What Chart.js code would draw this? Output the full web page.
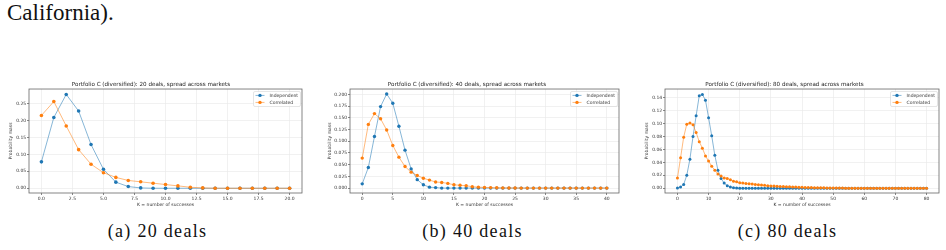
<!DOCTYPE html>
<html>
<head>
<meta charset="utf-8">
<script src="https://cdn.jsdelivr.net/npm/chart.js@4.4.1/dist/chart.umd.min.js"></script>
<style>
html, body { margin: 0; padding: 0; background: #fff; }
body { width: 946px; height: 250px; position: relative; overflow: hidden; }
.text { position: absolute; left: 7px; top: 0px; font-family: 'Liberation Serif', 'Times New Roman', 'DejaVu Serif', serif; font-size: 23px; color: #111; }
.fig { position: absolute; top: 75px; }
.cap { position: absolute; top: 221px; width: 315px; text-align: center; font-family: 'Liberation Serif', 'Times New Roman', 'DejaVu Serif', serif; font-size: 18px; letter-spacing: 1.3px; color: #111; }
</style>
</head>
<body>
<div class="text">California).</div>
<canvas id="c20" class="fig" style="left:0px" width="315" height="135"></canvas>
<canvas id="c40" class="fig" style="left:315px" width="315" height="135"></canvas>
<canvas id="c80" class="fig" style="left:630px" width="316" height="135"></canvas>
<div class="cap" style="left:0px">(a) 20 deals</div>
<div class="cap" style="left:315px">(b) 40 deals</div>
<div class="cap" style="left:630px">(c) 80 deals</div>
<script>
// values, k = 0..N
var indep20 = [0.078, 0.209, 0.277, 0.228, 0.129, 0.056, 0.018, 0.005, 0.001, 0, 0, 0, 0, 0, 0, 0, 0, 0, 0, 0, 0];
var corr20  = [0.215, 0.256, 0.184, 0.114, 0.071, 0.046, 0.032, 0.023, 0.019, 0.015, 0.011, 0.007, 0.003, 0.001, 0, 0, 0, 0, 0, 0, 0];

var indep40 = [0.009, 0.044, 0.110, 0.174, 0.201, 0.181, 0.132, 0.081, 0.041, 0.018, 0.007, 0.002, 0.001, 0, 0, 0, 0, 0, 0, 0,
               0, 0, 0, 0, 0, 0, 0, 0, 0, 0, 0, 0, 0, 0, 0, 0, 0, 0, 0, 0, 0];
var corr40  = [0.064, 0.136, 0.159, 0.148, 0.124, 0.091, 0.066, 0.046, 0.034, 0.027, 0.021, 0.017, 0.013, 0.012, 0.010, 0.007, 0.006, 0.005, 0.003, 0.002,
               0.0015, 0.001, 0.0006, 0.0004, 0.0002, 0.0001, 0, 0, 0, 0, 0, 0, 0, 0, 0, 0, 0, 0, 0, 0, 0];

var indep80 = [0.0003, 0.0018, 0.006, 0.020, 0.045, 0.080, 0.112, 0.143, 0.145, 0.136, 0.109, 0.081, 0.051, 0.028, 0.015, 0.008, 0.004, 0.002, 0.001, 0.0005,
               0.0002, 0.0001, 0, 0, 0, 0, 0, 0, 0, 0, 0, 0, 0, 0, 0, 0, 0, 0, 0, 0,
               0, 0, 0, 0, 0, 0, 0, 0, 0, 0, 0, 0, 0, 0, 0, 0, 0, 0, 0, 0,
               0, 0, 0, 0, 0, 0, 0, 0, 0, 0, 0, 0, 0, 0, 0, 0, 0, 0, 0, 0, 0];
var corr80  = [0.016, 0.047, 0.079, 0.099, 0.101, 0.098, 0.086, 0.072, 0.062, 0.050, 0.042, 0.034, 0.028, 0.022, 0.019, 0.016, 0.015, 0.013, 0.011, 0.010,
               0.0085, 0.008, 0.0075, 0.007, 0.0065, 0.006, 0.0055, 0.005, 0.0045, 0.004, 0.0037, 0.0034, 0.0031, 0.0028, 0.0026, 0.0024, 0.0022, 0.002, 0.0018, 0.0017,
               0.0015, 0.0013, 0.0012, 0.0011, 0.001, 0.0009, 0.0008, 0.0007, 0.0006, 0.0005, 0.0005, 0.0004, 0.0003, 0.0003, 0.0002, 0.0002, 0.0001, 0.0001, 0, 0,
               0, 0, 0, 0, 0, 0, 0, 0, 0, 0, 0, 0, 0, 0, 0, 0, 0, 0, 0, 0, 0];

var k20 = indep20.map(function (v, i) { return i; });
var k40 = indep40.map(function (v, i) { return i; });
var k80 = indep80.map(function (v, i) { return i; });

Chart.defaults.font.family = 'DejaVu Sans';
Chart.defaults.color = '#333';

var tickFont = { family: 'DejaVu Sans', size: 4.5, lineHeight: 1.2 };

// matplotlib style box around the axes
var frame = {
    id: 'frame',
    afterDatasetsDraw: function (chart) {
        var a = chart.chartArea, ctx = chart.ctx;
        ctx.save();
        ctx.strokeStyle = '#666';
        ctx.lineWidth = 0.8;
        ctx.strokeRect(a.left, a.top, a.right - a.left, a.bottom - a.top);
        ctx.restore();
    }
};

// legend drawn inside the plot, upper right
var legendBox = {
    id: 'legendBox',
    afterDraw: function (chart) {
        var a = chart.chartArea, ctx = chart.ctx;
        var w = 47, h = 15;
        var x = a.right - w - 1.5, y = a.top + 2.5;
        ctx.save();
        ctx.fillStyle = 'rgba(255,255,255,0.85)';
        ctx.strokeStyle = '#d4d4d4';
        ctx.lineWidth = 0.6;
        ctx.beginPath();
        ctx.roundRect(x, y, w, h, 1.5);
        ctx.fill();
        ctx.stroke();
        ctx.font = '4.5px "DejaVu Sans"';
        ctx.textBaseline = 'middle';
        chart.data.datasets.forEach(function (ds, i) {
            var cy = y + 3.9 + i * 7;
            ctx.strokeStyle = ds.borderColor;
            ctx.lineWidth = 0.9;
            ctx.beginPath();
            ctx.moveTo(x + 2, cy);
            ctx.lineTo(x + 11, cy);
            ctx.stroke();
            ctx.fillStyle = ds.pointBackgroundColor;
            ctx.beginPath();
            ctx.arc(x + 6.5, cy, 1.7, 0, Math.PI * 2);
            ctx.fill();
            ctx.fillStyle = '#333';
            ctx.fillText(ds.label, x + 16, cy);
        });
        ctx.restore();
    }
};

function makeChart(id, k, ind, cor, o) {
    var pts = function (arr) { return arr.map(function (v, i) { return { x: k[i], y: v }; }); };
    return new Chart(document.getElementById(id), {
        type: 'line',
        data: {
            datasets: [
                {
                    label: 'Independent',
                    data: pts(ind),
                    borderColor: 'rgba(31,119,180,0.6)',
                    pointBackgroundColor: '#1f77b4',
                    pointBorderWidth: 0,
                    pointRadius: o.r,
                    borderWidth: 0.9,
                    order: 1
                },
                {
                    label: 'Correlated',
                    data: pts(cor),
                    borderColor: 'rgba(255,127,14,0.6)',
                    pointBackgroundColor: '#ff7f0e',
                    pointBorderWidth: 0,
                    pointRadius: o.r,
                    borderWidth: 0.9,
                    order: 0
                }
            ]
        },
        options: {
            responsive: false,
            animation: false,
            events: [],
            layout: { padding: { left: 0, right: o.padR, top: 0, bottom: 0 } },
            plugins: {
                legend: { display: false },
                tooltip: { enabled: false },
                title: {
                    display: true,
                    text: o.title,
                    color: '#222',
                    font: { family: 'DejaVu Sans', size: 5.6, weight: 'normal', lineHeight: 1.2 },
                    padding: { top: 6.3, bottom: 1 }
                }
            },
            scales: {
                x: {
                    type: 'linear',
                    min: o.xMin,
                    max: o.xMax,
                    afterFit: function (s) { s.height = 17; },
                    border: { display: false },
                    grid: { color: '#ebebeb', lineWidth: 0.7, tickLength: 2, tickColor: '#555', tickWidth: 0.7 },
                    ticks: {
                        stepSize: o.xStep,
                        includeBounds: false,
                        autoSkip: false,
                        maxRotation: 0,
                        padding: 1.3,
                        font: tickFont,
                        callback: function (v) { return v.toFixed(o.xDec); }
                    },
                    title: {
                        display: true,
                        text: 'K = number of successes',
                        font: tickFont,
                        padding: { top: 0, bottom: 2.3 }
                    }
                },
                y: {
                    min: o.yMin,
                    max: o.yMax,
                    afterFit: function (s) { s.width = o.yW; },
                    border: { display: false },
                    grid: { color: '#ebebeb', lineWidth: 0.7, tickLength: 2, tickColor: '#555', tickWidth: 0.7 },
                    ticks: {
                        stepSize: o.yStep,
                        includeBounds: false,
                        autoSkip: false,
                        padding: 0.8,
                        font: tickFont,
                        callback: function (v) { return v.toFixed(o.yDec); }
                    },
                    title: {
                        display: true,
                        text: 'Probability mass',
                        font: tickFont,
                        padding: { top: o.yTitlePad, bottom: 0 }
                    }
                }
            }
        },
        plugins: [frame, legendBox]
    });
}

makeChart('c20', k20, indep20, corr20, {
    title: 'Portfolio C (diversified): 20 deals, spread across markets',
    xMin: -1, xMax: 21, xStep: 2.5, xDec: 1,
    yMin: -0.014, yMax: 0.293, yStep: 0.05, yDec: 2,
    yW: 29, yTitlePad: 8.3, padR: 13, r: 1.8
});
makeChart('c40', k40, indep40, corr40, {
    title: 'Portfolio C (diversified): 40 deals, spread across markets',
    xMin: -2, xMax: 42, xStep: 5, xDec: 0,
    yMin: -0.0105, yMax: 0.2115, yStep: 0.025, yDec: 3,
    yW: 35, yTitlePad: 12.3, padR: 11, r: 1.7
});
makeChart('c80', k80, indep80, corr80, {
    title: 'Portfolio C (diversified): 80 deals, spread across markets',
    xMin: -4, xMax: 84, xStep: 10, xDec: 0,
    yMin: -0.0073, yMax: 0.1533, yStep: 0.02, yDec: 2,
    yW: 35, yTitlePad: 14.3, padR: 7, r: 1.5
});
</script>
</body>
</html>
